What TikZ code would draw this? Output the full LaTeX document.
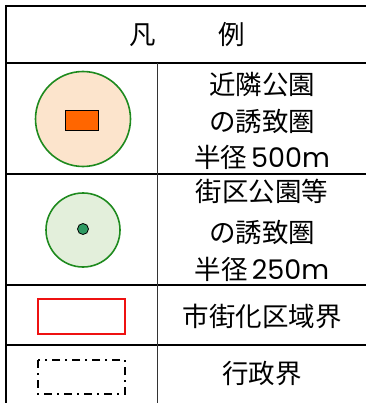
\documentclass[tikz,border=0pt]{standalone}
\usepackage{fontspec}
\setmainfont{Noto Sans CJK JP}
\newfontfamily\numfont{Poppins}
\definecolor{ringgreen}{HTML}{1E8A1E}
\definecolor{peach}{HTML}{FCE4CC}
\definecolor{paleg}{HTML}{E3EFDB}
\definecolor{parkorange}{HTML}{FF6600}
\definecolor{dotgreen}{HTML}{2E9A62}
\definecolor{borderred}{HTML}{EE1111}
\tikzset{
  x=1pt, y=-1pt,
  rule/.style={line width=2pt, black},
  thinrule/.style={line width=1pt, black!80},
  lbl/.style={font=\fontsize{26.5}{32}\selectfont, align=center, inner sep=0pt},
  ring/.style={draw=ringgreen, line width=1.6pt},
}
\newcommand{\numtxt}[1]{{\numfont\fontsize{27}{32}\selectfont #1}}
\begin{document}
\begin{tikzpicture}
\useasboundingbox (0,0) rectangle (366,403);
% table rules
\draw[line width=1.6pt] (6,5) -- (6,403);
\draw[rule] (5,6) -- (366,6);
\draw[rule] (5,63) -- (366,63);
\draw[rule] (5,174) -- (366,174);
\draw[rule] (5,285) -- (366,285);
\draw[rule] (5,345) -- (366,345);
\draw[thinrule] (157,63) -- (157,403);
% title
\node[lbl] (t1) at (143,35) {凡};
\node[lbl] (t2) at (232,35) {例};
% row 1
\draw[ring, fill=peach] (83,119) circle[radius=47.5];
\draw[fill=parkorange, draw=black, line width=0.8pt] (65,110) rectangle (98,130);
\node[lbl] (r1a) at (262,84) {近隣公園};
\node[lbl] (r1b) at (262,121) {の誘致圏};
\node[lbl] (r1c) at (262,157) {半径\hspace{4pt}\numtxt{500m}};
% row 2
\draw[ring, fill=paleg] (83,230) circle[radius=37];
\draw[fill=dotgreen, draw=black, line width=0.8pt] (83,229) circle[radius=5.5];
\node[lbl] (r2a) at (262,191) {街区公園等};
\node[lbl] (r2b) at (262,232) {の誘致圏};
\node[lbl] (r2c) at (262,269) {半径\hspace{4pt}\numtxt{250m}};
% row 3
\draw[borderred, line width=2pt] (38,299) rectangle (125,334);
\node[lbl] (r3) at (262,316) {市街化区域界};
% row 4
\draw[black, line width=2pt, dash pattern=on 8pt off 5pt on 2pt off 5pt] (38,360) rectangle (125,394);
\node[lbl] (r4) at (262,373) {行政界};
\end{tikzpicture}
\end{document}
